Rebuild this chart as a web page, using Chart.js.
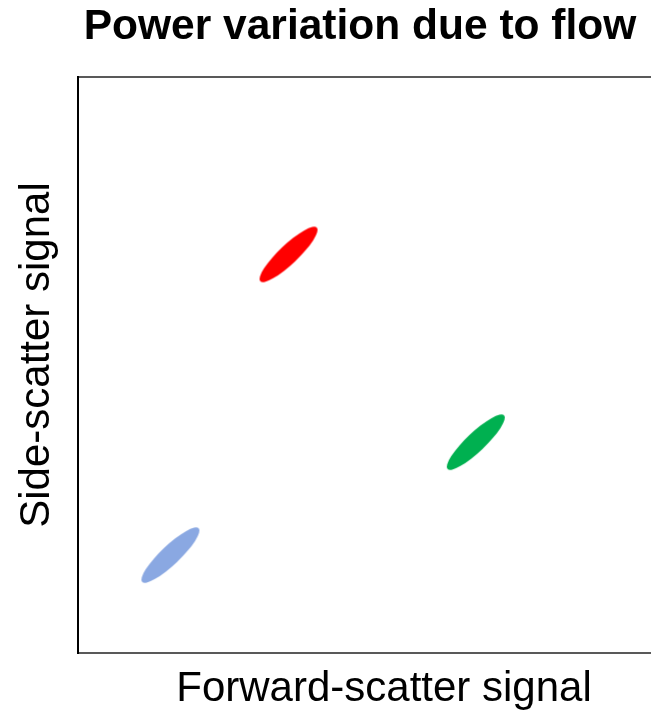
<!DOCTYPE html>
<html>
<head>
<meta charset="utf-8">
<script src="https://cdn.jsdelivr.net/npm/chart.js@4/dist/chart.umd.min.js"></script>
<style>
  html, body { margin: 0; padding: 0; background: #fff; overflow: hidden; }
  #wrap { width: 720px; height: 718px; }
</style>
</head>
<body>
<div id="wrap"><canvas id="c" width="720" height="718"></canvas></div>
<script>
// Cell populations: centre of each cluster in (forward scatter, side scatter)
const populations = ['Population 1', 'Population 2', 'Population 3'];
const forwardScatter = [34.4, 65.0, 15.1];
const sideScatter = [69.2, 36.6, 17.0];
const populationColors = ['#FF0000', '#00B050', '#8AA8E2'];

// Elongated, tilted ellipse used as the marker for each cluster
function ellipseMarker(color) {
  const size = 90;
  const cv = document.createElement('canvas');
  cv.width = size;
  cv.height = size;
  const g = cv.getContext('2d');
  g.fillStyle = color;
  g.beginPath();
  g.ellipse(size / 2, size / 2, 39, 9.5, -43.5 * Math.PI / 180, 0, 2 * Math.PI);
  g.fill();
  return cv;
}

Chart.defaults.font.family = "'Liberation Sans', Arial, Helvetica, sans-serif";
Chart.defaults.color = '#000';

const datasets = populations.map((name, i) => ({
  label: name,
  data: [{ x: forwardScatter[i], y: sideScatter[i] }],
  pointStyle: ellipseMarker(populationColors[i]),
  pointRadius: 40,
  backgroundColor: populationColors[i],
  borderColor: populationColors[i]
}));

const hiddenAxis = {
  ticks: { display: false },
  grid: { display: false, drawTicks: false }
};

// Vertical axis label, centred a little above the middle of the plot
const sideLabel = {
  id: 'sideLabel',
  afterDraw(chart) {
    const { ctx, chartArea } = chart;
    ctx.save();
    ctx.translate(37, (chartArea.top + chartArea.bottom) / 2 - 10);
    ctx.rotate(-Math.PI / 2);
    ctx.font = "42px 'Liberation Sans', Arial, Helvetica, sans-serif";
    ctx.fillStyle = '#000';
    ctx.textAlign = 'center';
    ctx.textBaseline = 'middle';
    ctx.fillText('Side-scatter signal', 0, 0);
    ctx.restore();
  }
};

new Chart(document.getElementById('c'), {
  type: 'scatter',
  data: { datasets },
  plugins: [sideLabel],
  options: {
    responsive: false,
    animation: false,
    events: [],
    layout: { padding: 0, autoPadding: false },
    plugins: {
      legend: { display: false },
      tooltip: { enabled: false },
      title: {
        display: true,
        text: 'Power variation due to flow',
        font: { size: 42.5, weight: 'bold' },
        color: '#000',
        padding: { top: 2, bottom: 24 }
      }
    },
    scales: {
      x: {
        type: 'linear', position: 'bottom', min: 0, max: 100,
        ...hiddenAxis,
        border: { display: true, color: '#595959', width: 2 },
        title: {
          display: true, text: 'Forward-scatter signal',
          font: { size: 42 }, color: '#000',
          padding: { top: 12, bottom: 3 }
        },
        afterFit: s => { s.height = 65; }
      },
      xTop: {
        type: 'linear', axis: 'x', position: 'top', min: 0, max: 100,
        ...hiddenAxis,
        border: { display: true, color: '#595959', width: 2 },
        afterFit: s => { s.height = 0; }
      },
      y: {
        type: 'linear', position: 'left', min: 0, max: 100,
        ...hiddenAxis,
        border: { display: true, color: '#000', width: 2 },
        afterFit: s => { s.width = 78; }
      },
      yRight: {
        type: 'linear', axis: 'y', position: 'right', min: 0, max: 100,
        ...hiddenAxis,
        border: { display: false },
        afterFit: s => { s.width = 30; }
      }
    }
  }
});
</script>
</body>
</html>
